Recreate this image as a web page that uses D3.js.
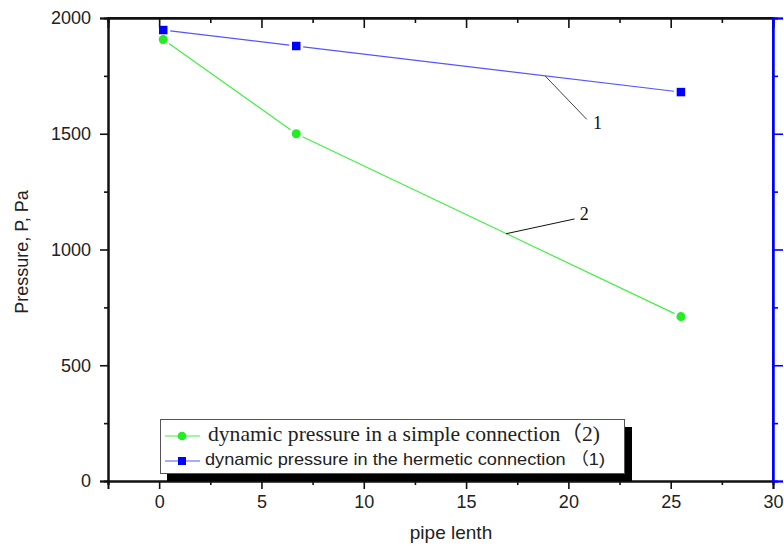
<!DOCTYPE html>
<html>
<head>
<meta charset="utf-8">
<script src="https://cdn.jsdelivr.net/npm/d3@7"></script>
<style>
  body { margin: 0; background: #fff; }
  svg { display: block; }
</style>
</head>
<body>
<div id="chart"></div>
<script>
// data
let pipeLength = [0.2, 6.7, 25.5];
let simplePressure = [1907, 1500, 710];     // curve 2, green
let hermeticPressure = [1948, 1879, 1680];  // curve 1, blue
let xTicks = [0, 5, 10, 15, 20, 25, 30];
let yTicks = [0, 500, 1000, 1500, 2000];
let legendLabels = ["dynamic pressure in a simple connection（2)",
                    "dynamic pressure in the hermetic connection （1)"];
// curve labels: text, point on curve, end of leader, text position
let noteText = ["1", "2"];
let noteFrom = [[18.86, 1750], [16.95, 1068]];
let noteTo = [[20.9, 1562], [20.3, 1132]];
let noteAt = [[21.2, 1540], [20.55, 1145]];

let width = 784,
    height = 545;
let plot = { left: 108, right: 773, top: 18, bottom: 481 };
let green = '#22ee22', blue = '#0000ff';
let sans = "'Liberation Sans', Arial, sans-serif";
let serif = "'Liberation Serif', 'Times New Roman', serif";

let svg = d3.select("#chart")
    .append("svg")
    .attr("width", width)
    .attr("height", height);

let x = d3.scaleLinear().domain([-2.5, 30]).range([plot.left, plot.right]);
let y = d3.scaleLinear().domain([0, 2000]).range([plot.bottom, plot.top]);

let majorX = xTicks, minorX = d3.range(-2.5, 30, 5);
let majorY = yTicks, minorY = d3.range(250, 2000, 500);

// bottom axis, ticks outward
let axBottom = svg.append("g").attr("transform", "translate(0," + plot.bottom + ")");
axBottom.call(d3.axisBottom(x).tickValues(minorX).tickSize(4).tickFormat(""));
axBottom.append("g").call(d3.axisBottom(x).tickValues(majorX).tickSize(8).tickPadding(6).tickFormat(d3.format("d")));

// top axis, ticks inward
let axTop = svg.append("g").attr("transform", "translate(0," + plot.top + ")");
axTop.call(d3.axisBottom(x).tickValues(minorX).tickSize(5).tickFormat(""));
axTop.append("g").call(d3.axisBottom(x).tickValues(majorX).tickSize(10).tickFormat(""));

// left axis
let axLeft = svg.append("g").attr("transform", "translate(" + plot.left + ",0)");
axLeft.call(d3.axisLeft(y).tickValues(minorY).tickSize(4).tickFormat(""));
axLeft.append("g").call(d3.axisLeft(y).tickValues(majorY).tickSize(8).tickPadding(9).tickFormat(d3.format("d")));

// right axis, blue, no labels
let axRight = svg.append("g").attr("transform", "translate(" + plot.right + ",0)");
axRight.call(d3.axisRight(y).tickValues(minorY).tickSize(5).tickFormat(""));
axRight.append("g").call(d3.axisRight(y).tickValues(majorY).tickSize(10).tickFormat(""));

svg.selectAll(".domain").attr("stroke-width", 2).attr("stroke", "#111");
svg.selectAll(".tick line").attr("stroke-width", 1.6).attr("stroke", "#111");
axRight.selectAll(".domain, .tick line").attr("stroke", blue);
svg.selectAll(".tick text")
    .style("font-family", sans)
    .style("font-size", "18px")
    .attr("fill", "#222");

// frame lines spanning the whole box
svg.append("line").attr("x1", plot.left).attr("x2", plot.right)
    .attr("y1", plot.top).attr("y2", plot.top).attr("stroke", "#111").attr("stroke-width", 2);
svg.append("line").attr("x1", plot.right).attr("x2", plot.right)
    .attr("y1", plot.top).attr("y2", plot.bottom).attr("stroke", blue).attr("stroke-width", 2);

// axis titles
svg.append("text")
    .attr("transform", "translate(28," + 252 + ") rotate(-90)")
    .attr("text-anchor", "middle")
    .style("font-family", sans)
    .style("font-size", "18px")
    .attr("fill", "#222")
    .text("Pressure, P, Pa");

svg.append("text")
    .attr("x", 451)
    .attr("y", 539)
    .attr("text-anchor", "middle")
    .style("font-family", sans)
    .style("font-size", "19px")
    .attr("fill", "#222")
    .text("pipe lenth");

// Origin style segments: leave a small gap round each marker
function gappedSegments(xs, ys, gap) {
    let segs = [];
    for (let i = 0; i < xs.length - 1; i++) {
        let x1 = x(xs[i]), y1 = y(ys[i]), x2 = x(xs[i + 1]), y2 = y(ys[i + 1]);
        let len = Math.hypot(x2 - x1, y2 - y1);
        let ux = (x2 - x1) / len, uy = (y2 - y1) / len;
        segs.push([x1 + ux * gap, y1 + uy * gap, x2 - ux * gap, y2 - uy * gap]);
    }
    return segs;
}

function drawSeries(ys, color, lineColor, shape) {
    let g = svg.append("g");
    g.selectAll("line")
        .data(gappedSegments(pipeLength, ys, 7))
        .enter().append("line")
        .attr("x1", d => d[0]).attr("y1", d => d[1])
        .attr("x2", d => d[2]).attr("y2", d => d[3])
        .attr("stroke", lineColor)
        .attr("stroke-width", 1.2);
    g.selectAll("path")
        .data(pipeLength.map((v, i) => [v, ys[i]]))
        .enter().append("path")
        .attr("transform", d => "translate(" + x(d[0]) + "," + y(d[1]) + ")")
        .attr("d", d3.symbol().type(shape).size(shape === d3.symbolSquare ? 72 : 64))
        .attr("fill", color);
}

drawSeries(simplePressure, green, '#44ee44', d3.symbolCircle);
drawSeries(hermeticPressure, blue, '#5555ff', d3.symbolSquare);

// curve labels with leaders
noteText.forEach((t, i) => {
    svg.append("line")
        .attr("x1", x(noteFrom[i][0])).attr("y1", y(noteFrom[i][1]))
        .attr("x2", x(noteTo[i][0])).attr("y2", y(noteTo[i][1]))
        .attr("stroke", i === 0 ? "#444" : "#111")
        .attr("stroke-width", 1);
    svg.append("text")
        .attr("x", x(noteAt[i][0]))
        .attr("y", y(noteAt[i][1]))
        .attr("dominant-baseline", "middle")
        .style("font-family", serif)
        .style("font-size", "18px")
        .attr("fill", "#111")
        .text(t);
});

// legend with shadow
let lg = svg.append("g");
lg.append("rect").attr("x", 167).attr("y", 427).attr("width", 465).attr("height", 54).attr("fill", "#000");
lg.append("rect").attr("x", 160.5).attr("y", 419.5).attr("width", 464).attr("height", 54)
    .attr("fill", "#fff").attr("stroke", "#555").attr("stroke-width", 1);

let rows = [
    { y: 436, color: green, line: '#44ee44', shape: d3.symbolCircle, font: serif, size: "21px", tx: 208, len: 392 },
    { y: 461, color: blue, line: '#5555ff', shape: d3.symbolSquare, font: sans, size: "17px", tx: 205, len: 400 }
];
rows.forEach((r, i) => {
    lg.append("line").attr("x1", 165).attr("x2", 200).attr("y1", r.y).attr("y2", r.y)
        .attr("stroke", r.line).attr("stroke-width", 1.2);
    lg.append("path").attr("transform", "translate(182," + r.y + ")")
        .attr("d", d3.symbol().type(r.shape).size(r.shape === d3.symbolSquare ? 64 : 60))
        .attr("fill", r.color);
    lg.append("text")
        .attr("x", r.tx).attr("y", r.y)
        .attr("dominant-baseline", "middle")
        .attr("textLength", r.len)
        .attr("lengthAdjust", "spacingAndGlyphs")
        .style("font-family", r.font + ", 'Noto Sans CJK SC'")
        .style("font-size", r.size)
        .attr("fill", "#222")
        .text(legendLabels[i]);
});
</script>
</body>
</html>
